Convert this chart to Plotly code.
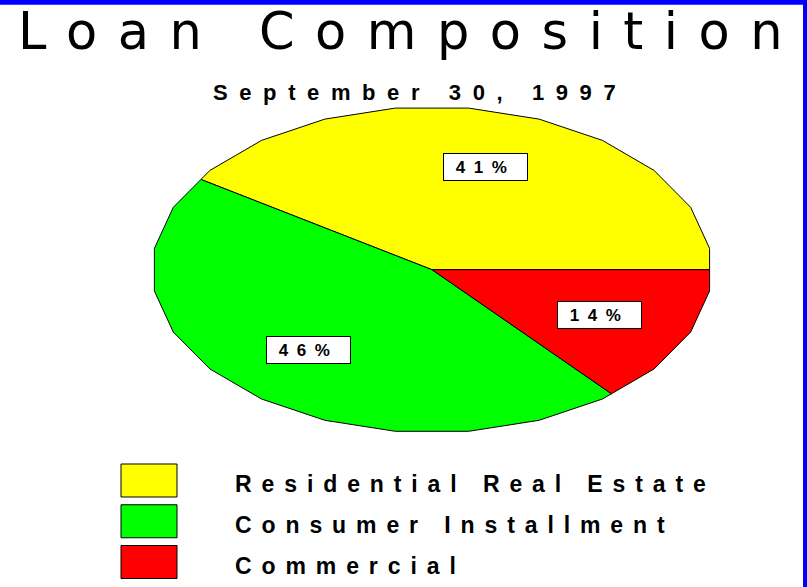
import math
import plotly.graph_objects as go

# ---- data ----
categories = ["Residential Real Estate", "Consumer Installment", "Commercial"]
values = [41, 46, 14]
pct_labels = ["41%", "46%", "14%"]
colors = ["#FFFF00", "#00FF00", "#FF0000"]
title_text = "Loan Composition"
subtitle_text = "September 30, 1997"

W, H = 807, 587
FONT = "Liberation Sans, Arial, sans-serif"
TITLE_FONT = "DejaVu Sans, Liberation Sans, sans-serif"

def px_x(p):
    return p / W

def px_y(p):
    return 1 - p / H

# ellipse polygon facet vertices every 15 deg, offset 7.5
STEP = 15.0
OFF = 7.5

def boundary_point(t):
    # intersection of ray at angle t (deg) with facet chord
    k = math.floor((t - OFF) / STEP)
    a = OFF + k * STEP
    m = a + STEP / 2
    r = math.cos(math.radians(STEP / 2)) / math.cos(math.radians(t - m))
    return r * math.cos(math.radians(t)), r * math.sin(math.radians(t))

total = float(sum(values))
fig = go.Figure()
annotations = []
start = 0.0
for cat, v, col, lab in zip(categories, values, colors, pct_labels):
    span = 360.0 * v / total
    end = start + span
    xs, ys = [0.0], [0.0]
    bx, by = boundary_point(start)
    xs.append(bx); ys.append(by)
    k = math.ceil((start - OFF) / STEP)
    ang = OFF + k * STEP
    while ang < end:
        if ang > start:
            xs.append(math.cos(math.radians(ang)))
            ys.append(math.sin(math.radians(ang)))
        ang += STEP
    bx, by = boundary_point(end)
    xs.append(bx); ys.append(by)
    xs.append(0.0); ys.append(0.0)
    fig.add_trace(go.Scatter(
        x=xs, y=ys, mode="lines", fill="toself", fillcolor=col,
        line=dict(color="black", width=1), name=cat, showlegend=False,
        hoverinfo="name",
    ))
    mid = math.radians(start + span / 2)
    rl = 0.66
    annotations.append(dict(
        x=rl * math.cos(mid), y=rl * math.sin(mid), xref="x", yref="y",
        text='<span style="letter-spacing:8.5px"><b>%s</b></span>' % lab,
        showarrow=False, font=dict(family=FONT, size=17, color="black"),
        bgcolor="white", bordercolor="black", borderwidth=1, borderpad=0,
        width=83, height=26, align="center", xanchor="center", yanchor="middle",
    ))
    start = end

# titles
annotations.append(dict(
    x=px_x(410), y=px_y(31), xref="paper", yref="paper",
    text='<span style="letter-spacing:20.5px">%s</span>' % title_text,
    showarrow=False, font=dict(family=TITLE_FONT, size=51, color="black"),
    xanchor="center", yanchor="middle",
))
annotations.append(dict(
    x=px_x(420), y=px_y(92.5), xref="paper", yref="paper",
    text='<span style="letter-spacing:11.6px"><b>%s</b></span>' % subtitle_text,
    showarrow=False, font=dict(family=FONT, size=22, color="black"),
    xanchor="center", yanchor="middle",
))

# legend rows
shapes = []
for i, (cat, col) in enumerate(zip(categories, colors)):
    cy = 480.5 + 40.75 * i
    shapes.append(dict(
        type="rect", xref="paper", yref="paper",
        x0=px_x(121), x1=px_x(177), y0=px_y(cy - 16.5), y1=px_y(cy + 16.5),
        fillcolor=col, line=dict(color="black", width=1),
    ))
    annotations.append(dict(
        x=px_x(233), y=px_y(cy + 3.5), xref="paper", yref="paper",
        text='<span style="letter-spacing:9.9px"><b>%s</b></span>' % cat,
        showarrow=False, font=dict(family=FONT, size=23, color="black"),
        xanchor="left", yanchor="middle",
    ))

# blue frame
shapes.append(dict(type="rect", xref="paper", yref="paper",
                   x0=0, x1=1, y0=px_y(4.7), y1=1,
                   fillcolor="#0000FF", line=dict(width=0)))
shapes.append(dict(type="rect", xref="paper", yref="paper",
                   x0=px_x(803), x1=1, y0=0, y1=1,
                   fillcolor="#0000FF", line=dict(width=0)))

fig.update_layout(
    width=W, height=H,
    margin=dict(l=0, r=0, t=0, b=0),
    paper_bgcolor="white", plot_bgcolor="white",
    xaxis=dict(domain=[0.1710, 0.8996], range=[-1.05, 1.05], visible=False,
               fixedrange=True),
    yaxis=dict(domain=[0.24898, 0.83211], range=[-1.05, 1.05], visible=False,
               fixedrange=True),
    annotations=annotations,
    shapes=shapes,
    showlegend=False,
)

fig.write_html(
    "out.html",
    config={"displayModeBar": False},
    post_script="document.body.style.margin='0';document.body.style.overflow='hidden';",
)
